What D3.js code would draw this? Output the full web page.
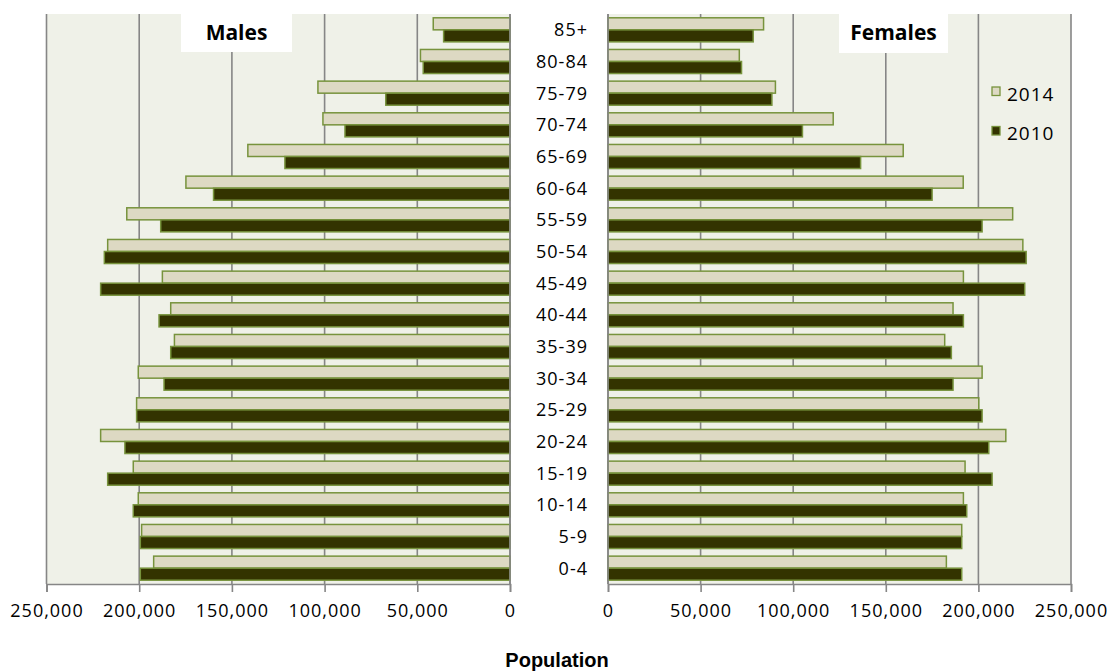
<!DOCTYPE html>
<html>
<head>
<meta charset="utf-8">
<script src="https://cdn.jsdelivr.net/npm/d3@7/dist/d3.min.js"></script>
<style>
  html, body { margin: 0; padding: 0; background: #ffffff; }
  svg { display: block; }
  text { font-family: "Open Sans", "Noto Sans", sans-serif; fill: #000; }
</style>
</head>
<body>
<svg id="chart" width="1114" height="671"></svg>
<script>
// Population pyramid: males on the left, females on the right, 2014 vs 2010
const ageGroups = ["0-4", "5-9", "10-14", "15-19", "20-24", "25-29", "30-34", "35-39", "40-44",
                   "45-49", "50-54", "55-59", "60-64", "65-69", "70-74", "75-79", "80-84", "85+"];

const males2014 = [192200, 198700, 200500, 203200, 220800, 201400, 200500, 181000, 183000,
                   187500, 217000, 206700, 174800, 141400, 100900, 103600, 48300, 41400];
const males2010 = [199400, 199400, 203200, 217000, 207700, 201400, 186600, 183000, 189300,
                   220800, 218800, 188400, 159900, 121400, 89000, 67000, 46800, 35800];
const females2014 = [182700, 191000, 191900, 192800, 214800, 200200, 202000, 181800, 186300,
                     191900, 224000, 218500, 191800, 159400, 121600, 90400, 70900, 84000];
const females2010 = [191000, 191000, 193700, 207400, 205600, 202000, 186300, 185400, 191900,
                     225000, 225800, 202000, 175000, 136400, 105000, 88500, 72100, 78400];

const years = ["2014", "2010"];
const tickValues = [0, 50000, 100000, 150000, 200000, 250000];

const svg = d3.select("#chart");
const plotTop = 14, plotBottom = 584;

const fills = { "2014": "#ddd9c3", "2010": "#333300" };
const barStroke = "#77933c";
const gridColor = "#868686";
const plotBg = "#eff1e8";

const y = d3.scaleBand()
  .domain(ageGroups.slice().reverse())
  .range([plotTop, plotBottom])
  .paddingInner(0.24)
  .paddingOuter(0.12);

const yYear = d3.scaleBand().domain(years).range([0, y.bandwidth()]);

const xMale = d3.scaleLinear().domain([0, 250000]).range([510, 46.5]);
const xFemale = d3.scaleLinear().domain([0, 250000]).range([608, 1071]);

const fmt = d3.format(",");

const panels = [
  { x: xMale, data: { "2014": males2014, "2010": males2010 } },
  { x: xFemale, data: { "2014": females2014, "2010": females2010 } }
];

panels.forEach(p => {
  const [r0, r1] = p.x.range();
  const xl = Math.min(r0, r1), xr = Math.max(r0, r1);
  const g = svg.append("g");

  // plot area background
  g.append("rect")
    .attr("x", xl).attr("y", plotTop)
    .attr("width", xr - xl).attr("height", plotBottom - plotTop)
    .attr("fill", plotBg);

  // vertical gridlines
  g.selectAll("line.grid").data(tickValues).join("line")
    .attr("class", "grid")
    .attr("x1", d => p.x(d)).attr("x2", d => p.x(d))
    .attr("y1", plotTop).attr("y2", plotBottom)
    .attr("stroke", gridColor).attr("stroke-width", 1.6);
});

// panel titles on white boxes
const titles = [
  { text: "Males", x0: 181, x1: 292, y0: 14, y1: 52 },
  { text: "Females", x0: 839, x1: 948, y0: 14, y1: 53 }
];
titles.forEach(t => {
  svg.append("rect")
    .attr("x", t.x0).attr("y", t.y0)
    .attr("width", t.x1 - t.x0).attr("height", t.y1 - t.y0)
    .attr("fill", "#ffffff");
  svg.append("text")
    .attr("x", (t.x0 + t.x1) / 2).attr("y", 40)
    .attr("text-anchor", "middle")
    .style("font-size", "21px").style("font-weight", "700")
    .text(t.text);
});

// bars
panels.forEach(p => {
  const zero = p.x(0);
  years.forEach(yr => {
    svg.append("g").selectAll("rect").data(ageGroups).join("rect")
      .attr("x", (d, i) => Math.min(zero, p.x(p.data[yr][i])))
      .attr("width", (d, i) => Math.abs(p.x(p.data[yr][i]) - zero))
      .attr("y", d => y(d) + yYear(yr))
      .attr("height", yYear.bandwidth())
      .attr("fill", fills[yr])
      .attr("stroke", barStroke)
      .attr("stroke-width", 1.5);
  });
});

// axes: zero line, baseline, tick marks and labels
panels.forEach(p => {
  const g = svg.append("g");
  g.append("line")
    .attr("x1", p.x(0)).attr("x2", p.x(0))
    .attr("y1", plotTop).attr("y2", plotBottom)
    .attr("stroke", gridColor).attr("stroke-width", 1.6);
  const axis = d3.axisBottom(p.x)
    .tickValues(tickValues)
    .tickFormat(fmt)
    .tickSize(8)
    .tickPadding(12);
  const ax = g.append("g").attr("transform", `translate(0,${plotBottom})`).call(axis);
  ax.select(".domain").attr("stroke", gridColor).attr("stroke-width", 1.6);
  ax.selectAll(".tick line").attr("stroke", gridColor).attr("stroke-width", 1.6);
  ax.selectAll(".tick text")
    .attr("fill", "#000")
    .style("font-family", "'Open Sans', sans-serif")
    .style("font-size", "18px")
    .style("letter-spacing", "1px");
});

// age group labels in the centre column
svg.append("g").selectAll("text").data(ageGroups).join("text")
  .attr("x", 588)
  .attr("y", d => y(d) + y.bandwidth() / 2 + 6.5)
  .attr("text-anchor", "end")
  .style("font-size", "18px")
  .style("letter-spacing", "1px")
  .text(d => d);

// legend
const legend = svg.append("g");
years.forEach((yr, i) => {
  const ly = 87 + i * 39.5;
  legend.append("rect")
    .attr("x", 992).attr("y", ly)
    .attr("width", 8).attr("height", 8.5)
    .attr("fill", fills[yr])
    .attr("stroke", barStroke).attr("stroke-width", 1.3);
  legend.append("text")
    .attr("x", 1007).attr("y", ly + 13.5)
    .style("font-size", "19px")
    .style("letter-spacing", "1px")
    .text(yr);
});

// axis title
svg.append("text")
  .attr("x", 557).attr("y", 667)
  .attr("text-anchor", "middle")
  .style("font-family", "'Liberation Sans', Arial, sans-serif")
  .style("font-size", "20px").style("font-weight", "700")
  .text("Population");
</script>
</body>
</html>
